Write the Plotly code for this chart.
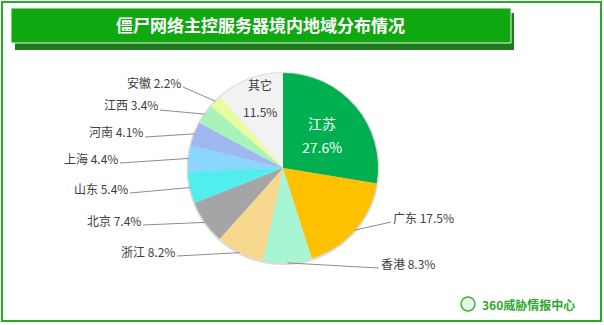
import math
import plotly.graph_objects as go

# ---- data ----
regions = ["江苏", "广东", "香港", "浙江", "北京", "山东", "上海", "河南", "江西", "安徽", "其它"]
shares = [27.6, 17.5, 8.3, 8.2, 7.4, 5.4, 4.4, 4.1, 3.4, 2.2, 11.5]
title_text = "僵尸网络主控服务器境内地域分布情况"
logo_text = "360威胁情报中心"

# ---- styling / layout ----
W, H = 604, 325
colors = ["#00B050", "#FFC000", "#A8F5D4", "#F8D88E", "#A5A5A5", "#52EEEE",
          "#8AD6FF", "#A0B8F2", "#A8F4B8", "#E8FCA2", "#F2F2F2"]
CX, CY, R = 283, 168, 95
# label anchor (pixel) for outside labels: (x, y, side)
label_pos = {
    "广东": (391, 217, "left"),
    "香港": (379, 263, "left"),
    "浙江": (177, 251, "right"),
    "北京": (143, 220, "right"),
    "山东": (130, 188, "right"),
    "上海": (120, 158, "right"),
    "河南": (145, 132, "right"),
    "江西": (160, 105, "right"),
    "安徽": (183, 82, "right"),
}
inside_pos = {"江苏": (322, 123, 147, "white", 14), "其它": (260, 84, 111, "#404040", 12)}

def px(x):
    return x / W

def py(y):
    return 1 - y / H

FONT = "Noto Sans CJK SC, Microsoft YaHei, sans-serif"

fig = go.Figure()
fig.add_trace(go.Pie(
    labels=regions, values=shares, sort=False, direction="clockwise", rotation=0,
    marker=dict(colors=colors, line=dict(width=0)),
    textinfo="none", hoverinfo="label+percent", showlegend=False,
    domain=dict(x=[px(CX - R), px(CX + R)], y=[py(CY + R), py(CY - R)]),
))

shapes = []
annotations = []

# outer border
shapes.append(dict(type="rect", xref="paper", yref="paper", x0=px(2), x1=px(601), y0=py(321), y1=py(2),
                   line=dict(color="#22B022", width=2), fillcolor="rgba(0,0,0,0)"))
# title banner shadow + banner
shapes.append(dict(type="rect", xref="paper", yref="paper", x0=px(15), x1=px(514), y0=py(50), y1=py(13),
                   line=dict(width=0), fillcolor="#1E7A1E"))
shapes.append(dict(type="rect", xref="paper", yref="paper", x0=px(11), x1=px(511), y0=py(43), y1=py(8),
                   line=dict(color="#E8F5E8", width=1), fillcolor="#10A810"))
annotations.append(dict(text="<b>%s</b>" % title_text, xref="paper", yref="paper", x=px(260), y=py(25),
                        showarrow=False, font=dict(family=FONT, size=17, color="white"),
                        xanchor="center", yanchor="middle"))
# pie soft shadow
shapes.append(dict(type="circle", xref="paper", yref="paper", layer="below",
                   x0=px(CX - R - 1.5), x1=px(CX + R + 1.5), y0=py(CY + R + 2), y1=py(CY - R - 1),
                   line=dict(width=0), fillcolor="rgba(150,150,150,0.35)"))

# labels computed from data angles
total = sum(shares)
cum = 0.0
for name, v in zip(regions, shares):
    mid = (cum + v / 2) / total * 2 * math.pi
    cum += v
    pct = "%.1f%%" % (v / total * 100)
    if name in inside_pos:
        x, y1, y2, col, fs = inside_pos[name]
        annotations.append(dict(text=name, xref="paper", yref="paper", x=px(x), y=py(y1), showarrow=False,
                                font=dict(family=FONT, size=fs, color=col), xanchor="center", yanchor="middle"))
        annotations.append(dict(text=pct, xref="paper", yref="paper", x=px(x), y=py(y2), showarrow=False,
                                font=dict(family=FONT, size=fs, color=col), xanchor="center", yanchor="middle"))
        continue
    ex = CX + R * math.sin(mid)
    ey = CY - R * math.cos(mid)
    lx, ly, side = label_pos[name]
    annotations.append(dict(text="%s %s" % (name, pct), xref="paper", yref="paper", x=px(lx), y=py(ly),
                            showarrow=False, font=dict(family=FONT, size=12, color="#404040"),
                            xanchor=side, yanchor="middle"))
    shapes.append(dict(type="line", xref="paper", yref="paper", x0=px(lx), y0=py(ly + 5), x1=px(ex), y1=py(ey),
                       line=dict(color="#8C8C8C", width=1)))

# logo
shapes.append(dict(type="circle", xref="paper", yref="paper", x0=px(461), x1=px(475), y0=py(311), y1=py(297),
                   line=dict(color="#3DB03D", width=1.5), fillcolor="#E6F6E6"))
annotations.append(dict(text="<b>%s</b>" % logo_text, xref="paper", yref="paper", x=px(480), y=py(304),
                        showarrow=False, font=dict(family=FONT, size=12, color="#2EA82E"),
                        xanchor="left", yanchor="middle"))

fig.update_layout(
    width=W, height=H, margin=dict(l=0, r=0, t=0, b=0),
    paper_bgcolor="white", plot_bgcolor="white",
    shapes=shapes, annotations=annotations,
)
fig.write_html("out.html")
